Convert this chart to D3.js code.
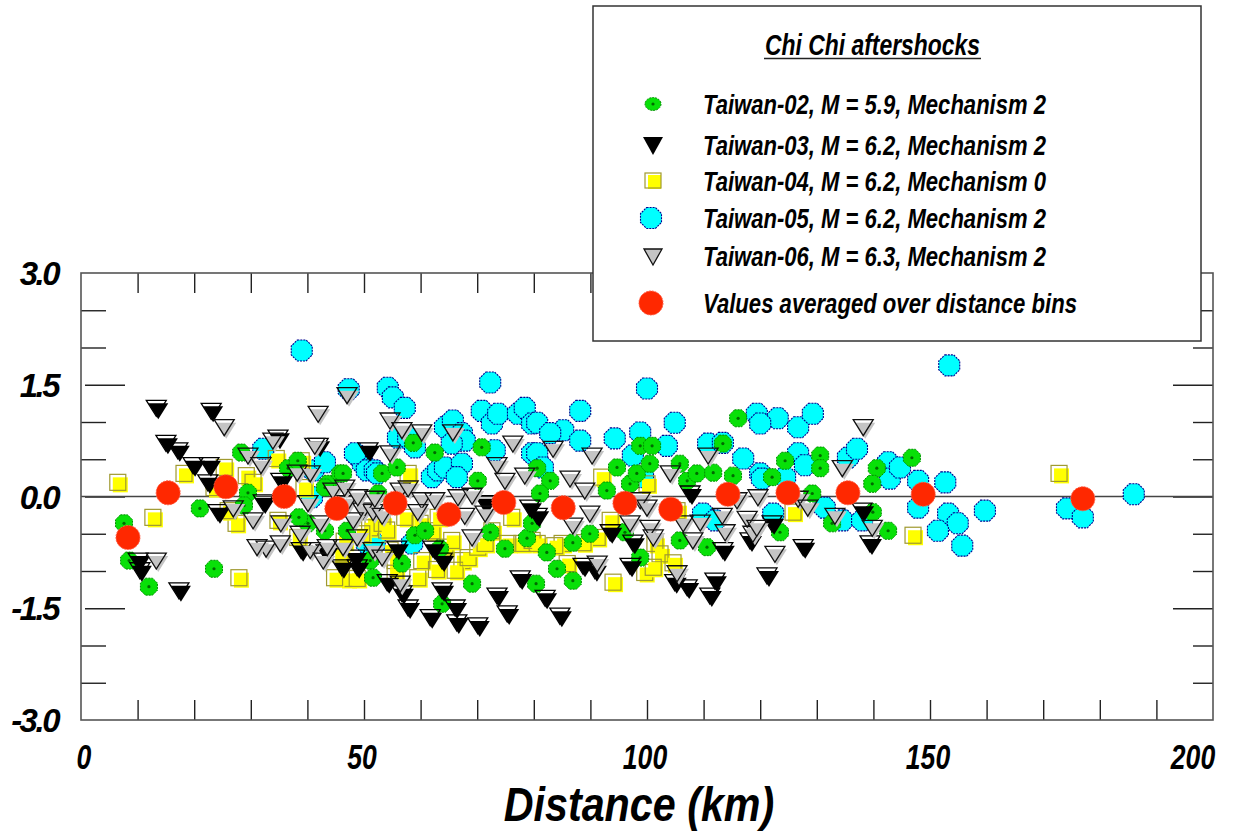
<!DOCTYPE html>
<html><head><meta charset="utf-8">
<script src="https://cdn.jsdelivr.net/npm/d3@7"></script>
<style>body{margin:0;background:#fff} text{font-family:"Liberation Sans",Arial,sans-serif;font-weight:bold;font-style:italic;fill:#000}</style>
</head><body><svg id="c" width="1248" height="832"></svg>
<script>
// ---------- data ----------
const xTickLabels = [0, 50, 100, 150, 200];
const yTickLabels = [3.0, 1.5, 0.0, -1.5, -3.0];
const xMinorTicks = [10,20,30,40,50,60,70,80,90,100,110,120,130,140,150,160,170,180,190];
const yMinorTicks = [2.5, 2.0, 1.0, 0.5, -0.5, -1.0, -2.0, -2.5];
const yMajorTicks = [1.5, 0, -1.5];
const legendTitle = "Chi Chi aftershocks";
const seriesNames = [
  "Taiwan-02, M = 5.9, Mechanism 2",
  "Taiwan-03, M = 6.2, Mechanism 2",
  "Taiwan-04, M = 6.2, Mechanism 0",
  "Taiwan-05, M = 6.2, Mechanism 2",
  "Taiwan-06, M = 6.3, Mechanism 2",
  "Values averaged over distance bins"
];
const xTitle = "Distance (km)";

// [distance km, residual]
const taiwan02 = [[7.6,-0.36],[8.5,-0.86],[12.0,-1.21],[21.0,-0.16],[23.5,-0.97],[28.3,0.59],[29.5,0.05],[28.8,-0.12],[36.6,0.38],[38.3,0.48],[40.1,-0.36],[43.6,0.17],[45.8,0.31],[43.1,0.12],[43.1,-0.46],[47.0,-0.46],[51.1,-0.86],[51.6,-1.09],[46.3,0.31],[53.2,0.31],[55.8,0.39],[52.5,0.04],[58.7,0.72],[62.5,0.59],[70.1,0.21],[70.8,0.66],[59.0,-0.52],[60.8,-0.46],[63.4,-0.70],[56.7,-0.90],[63.8,-1.44],[69.1,-1.17],[72.3,-0.48],[74.9,-0.70],[78.8,-0.56],[79.7,-0.36],[80.4,-1.17],[80.6,0.38],[82.9,0.21],[81.1,0.04],[89.9,-0.50],[86.9,-0.62],[82.3,-0.75],[84.1,-0.97],[86.9,-1.13],[94.7,0.39],[92.9,0.08],[97.0,0.17],[98.2,0.31],[98.8,0.68],[100.9,0.68],[100.5,0.44],[98.8,-0.82],[96.1,-0.48],[105.8,0.44],[107.1,0.21],[108.8,0.31],[111.7,0.32],[113.4,0.71],[115.2,0.28],[116.1,1.05],[105.8,-0.59],[110.6,-0.68],[124.4,0.48],[122.1,0.26],[130.6,0.55],[130.6,0.38],[129.2,0.04],[140.6,0.38],[139.8,0.17],[146.8,0.52],[139.9,-0.21],[142.6,-0.46],[132.7,-0.36],[123.5,-0.48],[38.5,-0.28]];
const taiwan03 = [[10.1,-0.86],[10.4,-0.99],[13.3,1.19],[15.0,0.72],[17.1,0.62],[17.3,-1.26],[19.8,0.42],[22.6,0.42],[22.4,0.19],[23.0,1.15],[24.2,-0.21],[32.2,-0.08],[34.8,0.79],[35.3,0.21],[38.9,-0.72],[41.9,0.68],[46.1,-0.95],[48.8,-0.95],[50.7,0.62],[48.4,-0.82],[54.1,-1.15],[56.7,-1.30],[57.8,-1.49],[61.7,-1.62],[63.8,-1.26],[63.8,-0.86],[66.1,-1.49],[66.4,-1.69],[70.1,-1.73],[73.5,-1.33],[75.3,-1.57],[77.6,-1.10],[62.2,-0.70],[55.8,-0.70],[71.4,-0.09],[79.3,-0.15],[80.6,-0.26],[82.0,-1.36],[84.6,-1.60],[88.7,-0.93],[90.8,-0.99],[93.5,-0.48],[97.5,-0.62],[97.0,-0.93],[104.9,-1.15],[107.1,-1.22],[107.6,0.04],[112.0,-1.13],[111.1,-1.33],[113.4,-0.72],[118.2,-0.59],[121.2,-1.06],[122.1,-0.36],[127.6,-0.68],[138.0,-0.19],[139.4,-0.63],[43.3,-0.75]];
const taiwan04 = [[6.5,0.19],[12.7,-0.28],[18.2,0.31],[27.9,-1.09],[25.3,0.39],[23.5,0.12],[29.2,0.28],[30.4,0.19],[34.5,0.51],[27.4,-0.36],[26.0,-0.19],[38.9,0.48],[34.8,-0.32],[38.3,-0.55],[39.4,0.12],[45.8,-0.77],[47.0,-1.10],[48.8,-1.10],[51.6,-0.36],[44.8,-1.09],[51.0,-0.42],[49.6,-0.50],[54.6,-0.72],[55.5,-0.86],[55.5,-1.03],[59.5,-1.09],[60.2,-0.86],[62.0,-0.46],[64.3,-0.68],[65.5,-0.59],[67.3,-0.86],[66.1,-0.99],[68.4,-0.82],[70.1,-0.68],[71.4,-0.63],[72.6,-0.46],[76.1,-0.28],[75.4,-0.63],[77.9,-0.63],[79.7,-0.59],[57.8,0.31],[63.1,-0.28],[57.2,-0.28],[59.9,-0.36],[53.2,-0.36],[54.0,-0.45],[62.8,-0.98],[46.5,-0.60],[92.0,0.26],[100.0,0.17],[93.5,-0.32],[91.2,-0.55],[88.7,-0.62],[85.0,-0.63],[83.7,-0.66],[80.6,-0.63],[85.9,-0.90],[94.0,-1.15],[101.4,-0.63],[102.3,-0.77],[99.6,-1.02],[101.1,-0.95],[104.6,-0.89],[105.3,-0.19],[125.8,-0.21],[147.0,-0.52],[172.8,0.31]];
const taiwan05 = [[32.2,0.64],[39.0,1.96],[41.0,0.35],[43.1,0.46],[40.8,-0.01],[47.3,1.44],[48.8,0.55],[49.8,0.44],[48.4,0.58],[50.5,0.35],[51.9,0.35],[52.3,0.31],[50.5,-0.63],[51.9,-0.63],[54.2,1.46],[55.1,1.33],[57.2,1.19],[56.0,0.79],[57.8,0.79],[59.0,0.66],[58.5,-0.63],[62.0,0.26],[63.1,0.35],[64.3,0.93],[65.7,1.02],[67.3,0.85],[67.8,0.75],[65.5,0.71],[64.3,0.39],[67.3,0.44],[66.4,0.26],[72.3,1.53],[70.8,1.15],[72.6,0.98],[73.7,1.11],[77.2,1.11],[78.4,1.19],[79.7,0.98],[73.1,0.62],[79.7,0.58],[80.6,0.99],[85.2,0.89],[82.9,0.85],[88.2,1.15],[88.2,0.75],[94.3,0.78],[98.8,0.86],[100.0,1.45],[103.5,0.68],[104.9,0.99],[110.8,0.71],[113.4,0.72],[117.0,0.51],[119.4,1.11],[120.0,0.31],[80.6,0.58],[81.6,0.39],[97.5,0.55],[99.3,0.26],[109.9,-0.23],[112.0,-0.32],[123.1,1.05],[126.7,0.93],[129.3,1.11],[120.0,0.98],[126.7,0.58],[127.9,0.42],[120.3,0.24],[124.4,0.26],[135.5,0.52],[137.1,0.64],[142.6,0.46],[142.9,0.24],[144.7,0.39],[147.9,0.21],[152.7,0.19],[147.9,-0.15],[122.3,-0.23],[131.4,-0.15],[134.6,-0.32],[138.0,-0.32],[153.2,-0.23],[154.9,-0.36],[151.4,-0.46],[155.7,-0.66],[159.7,-0.19],[153.4,1.76],[174.2,-0.16],[177.0,-0.28],[186.0,0.03]];
const taiwan06 = [[13.3,-0.86],[25.3,0.93],[26.9,-0.16],[29.5,0.55],[31.8,0.42],[33.9,0.75],[30.4,-0.32],[32.7,-0.70],[31.1,-0.68],[35.3,-0.36],[35.2,-0.63],[38.2,0.32],[40.5,0.31],[40.1,-0.09],[38.7,-0.50],[40.5,-0.72],[41.9,1.11],[41.3,0.68],[47.0,1.36],[44.5,0.08],[47.0,-0.09],[49.8,-0.19],[51.6,-0.21],[42.2,-0.36],[48.1,-0.32],[42.8,-0.86],[43.5,-0.68],[46.3,-0.68],[48.8,-0.55],[51.6,-0.72],[54.6,1.02],[56.7,0.89],[60.2,0.86],[65.7,0.86],[54.6,0.58],[76.3,0.71],[73.5,0.42],[74.9,0.21],[78.4,0.28],[46.6,0.12],[48.9,-0.01],[51.9,-0.03],[56.4,0.08],[57.8,0.11],[60.2,-0.05],[62.5,-0.05],[66.6,-0.01],[69.1,0.01],[71.4,-0.23],[67.8,-0.26],[59.5,-0.21],[53.2,-0.26],[53.2,-0.82],[56.4,-1.17],[69.1,-0.55],[83.4,0.64],[90.3,0.55],[104.1,0.31],[110.8,0.55],[86.4,0.24],[89.0,0.08],[89.9,-0.23],[86.9,-0.39],[98.8,-0.05],[100.0,-0.15],[97.0,-0.36],[100.5,-0.42],[101.1,-0.55],[106.4,-0.36],[109.4,-0.35],[108.1,-0.59],[113.3,-0.26],[113.8,-0.48],[117.7,-0.30],[118.7,-0.50],[91.2,-0.90],[105.3,-1.03],[115.9,-0.05],[138.2,0.93],[134.5,0.38],[126.7,-0.03],[128.4,-0.15],[119.6,-0.01],[133.2,-0.26],[139.8,-0.42],[122.6,-0.77],[119.4,-0.42]];
const binAverages = [[8.3,-0.55],[15.4,0.05],[25.6,0.13],[35.9,0.0],[45.2,-0.16],[55.5,-0.09],[65.0,-0.24],[74.7,-0.08],[85.2,-0.15],[96.1,-0.09],[104.2,-0.17],[114.3,0.03],[124.9,0.05],[135.5,0.05],[148.8,0.03],[177.0,-0.03]];

// ---------- layout ----------
const svg = d3.select("#c");
const L = 81, R = 1213, T = 273, B = 720;
const x = d3.scaleLinear().domain([0, 200]).range([L, R]);
const y = d3.scaleLinear().domain([-3, 3]).range([B, T]);
const tickColor = "#222";

svg.append("rect").attr("width",1248).attr("height",832).attr("fill","#fff");

function styleAxis(g){ g.select(".domain").remove(); g.selectAll(".tick line").attr("stroke",tickColor).attr("stroke-width",1.4); g.selectAll(".tick text").remove(); }

svg.append("g").attr("transform",`translate(0,${B})`).call(d3.axisTop(x).tickValues(xMinorTicks).tickSize(20)).call(styleAxis);
svg.append("g").attr("transform",`translate(0,${T})`).call(d3.axisBottom(x).tickValues(xMinorTicks).tickSize(20)).call(styleAxis);
svg.append("g").attr("transform",`translate(${L},0)`).call(d3.axisRight(y).tickValues(yMinorTicks).tickSize(25)).call(styleAxis);
svg.append("g").attr("transform",`translate(${L+4},0)`).call(d3.axisRight(y).tickValues(yMajorTicks).tickSize(40)).call(styleAxis);
svg.append("g").attr("transform",`translate(${R},0)`).call(d3.axisLeft(y).tickValues(yMinorTicks).tickSize(20)).call(styleAxis);
svg.append("g").attr("transform",`translate(${R},0)`).call(d3.axisLeft(y).tickValues(yMajorTicks).tickSize(40)).call(styleAxis);

svg.append("line").attr("x1",L).attr("x2",R).attr("y1",y(0)).attr("y2",y(0)).attr("stroke","#444").attr("stroke-width",1.4);
svg.append("rect").attr("x",L).attr("y",T).attr("width",R-L).attr("height",B-T).attr("fill","none").attr("stroke","#555").attr("stroke-width",1.6);

svg.append("g").selectAll("text").data(yTickLabels).join("text")
  .attr("x",58).attr("y",d=>y(d)+12).attr("text-anchor","end")
  .attr("font-size",33).attr("letter-spacing",-2.5)
  .text(d=>d.toFixed(1));

svg.append("g").selectAll("text").data(xTickLabels).join("text")
  .attr("transform",(d,i)=>{const dx = i===0?3:(i===xTickLabels.length-1?-20:-2); return `translate(${x(d)+dx},769) scale(0.76,1)`;})
  .attr("text-anchor","middle").attr("font-size",35)
  .text(d=>d);

svg.append("text").attr("transform","translate(639,821) scale(0.86,1)")
  .attr("text-anchor","middle").attr("font-size",48).text(xTitle);

// ---------- markers ----------
const plot = svg.append("g");
const tri = "M-10,-7.5L10,-7.5L0,8.5Z";
const oct = (r)=>{const a=r*0.42;return `M${-a},${-r}L${a},${-r}L${r},${-a}L${r},${a}L${a},${r}L${-a},${r}L${-r},${a}L${-r},${-a}Z`;};

function drawCyan(g){
  g.append("path").attr("d",oct(10.5)).attr("fill","#00ffff").attr("stroke","#00008f").attr("stroke-width",1.1).attr("stroke-dasharray","2,1");
}
function drawYellow(g){
  g.append("rect").attr("x",-5).attr("y",-5).attr("width",15).attr("height",15).attr("fill","#ffff00");
  g.append("rect").attr("x",-8).attr("y",-8).attr("width",16).attr("height",16).attr("fill","none").attr("stroke","#a09a30").attr("stroke-width",1.2);
}
function drawGreen(g){
  g.append("path").attr("d",oct(8.5)).attr("fill","#08e008").attr("stroke","#009000").attr("stroke-width",1).attr("stroke-dasharray","2,1");
  g.append("circle").attr("r",1.6).attr("fill","#006a00");
}
function drawBlack(g){
  g.append("path").attr("d",tri).attr("transform","translate(2,3)").attr("fill","#000");
  g.append("path").attr("d",tri).attr("fill","none").attr("stroke","#000").attr("stroke-width",1.3);
}
function drawGray(g){
  g.append("path").attr("d",tri).attr("transform","translate(2,3)").attr("fill","#c4c4c4");
  g.append("path").attr("d",tri).attr("fill","none").attr("stroke","#111").attr("stroke-width",1.3);
}
function drawRed(g){
  g.append("circle").attr("r",12).attr("fill","#ff2800").attr("stroke","#ff5a40").attr("stroke-width",1).attr("stroke-dasharray","2,1");
}

function layer(data, fn){
  plot.append("g").selectAll("g").data(data).join("g")
    .attr("transform",d=>`translate(${x(d[0])},${y(d[1])})`)
    .each(function(){ fn(d3.select(this)); });
}
layer(taiwan05, drawCyan);
layer(taiwan04, drawYellow);
layer(taiwan02, drawGreen);
layer(taiwan03, drawBlack);
layer(taiwan06, drawGray);
layer(binAverages, drawRed);

// ---------- legend ----------
const lg = svg.append("g");
lg.append("rect").attr("x",593).attr("y",6).attr("width",608).attr("height",335).attr("fill","#fff").attr("stroke","#333").attr("stroke-width",1.5);
lg.append("text").attr("x",765).attr("y",55).attr("font-size",29).attr("textLength",215).attr("lengthAdjust","spacingAndGlyphs").text(legendTitle);
lg.append("line").attr("x1",764).attr("x2",981).attr("y1",58.5).attr("y2",58.5).attr("stroke","#222").attr("stroke-width",1.3);

const rowsY = [104, 145, 181, 218, 256, 303];
const drawers = [
  g=>{g.append("ellipse").attr("rx",8).attr("ry",6.5).attr("fill","#08e008").attr("stroke","#009000").attr("stroke-dasharray","2,1"); g.append("circle").attr("r",1.6).attr("fill","#006a00");},
  g=>{g.append("path").attr("d","M-10,-8L10,-8L0,10Z").attr("fill","#000");},
  g=>{g.append("rect").attr("x",-5).attr("y",-6).attr("width",13).attr("height",14).attr("fill","#ffff00"); g.append("rect").attr("x",-8).attr("y",-8).attr("width",16).attr("height",15).attr("fill","none").attr("stroke","#a09a30").attr("stroke-width",1.2);},
  g=>{g.attr("transform",`translate(651,218)`); drawCyan(g);},
  g=>{g.append("path").attr("d","M-9,-7L9,-7L0,9Z").attr("fill","#c4c4c4").attr("stroke","#111").attr("stroke-width",1.3);},
  g=>{g.attr("transform",`translate(651,303)`); drawRed(g);}
];
const textLens = [343, 343, 343, 343, 343, 374];
seriesNames.forEach((name,i)=>{
  const g = lg.append("g").attr("transform",`translate(653,${rowsY[i]})`);
  drawers[i](g);
  lg.append("text").attr("x",703).attr("y",rowsY[i]+10).attr("font-size",28)
    .attr("textLength",textLens[i]).attr("lengthAdjust","spacingAndGlyphs").text(name);
});
</script></body></html>
